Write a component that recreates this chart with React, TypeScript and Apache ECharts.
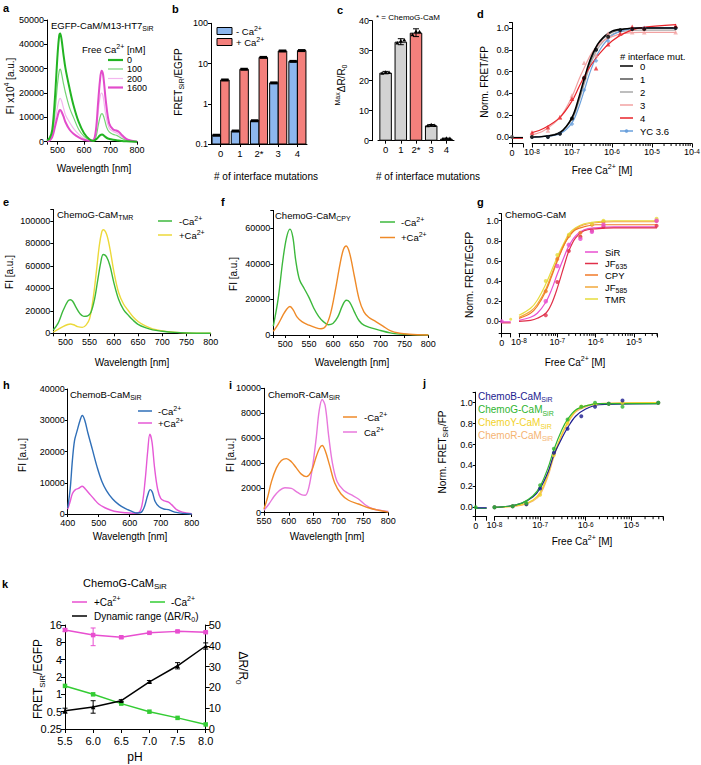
import React, { useEffect, useRef } from "react";
import * as echarts from "echarts";

const FONT = "'Liberation Sans', Arial, Helvetica, sans-serif";

// ---------- a: EGFP-CaM/M13-HT7SiR spectra [nm, FI] ----------
const aCa0 = [[460,500],[470,1500],[480,5000],[490,18000],[500,36000],[506,43500],[510,44500],[515,42000],[522,36000],[530,30000],[545,22000],[560,15000],[580,8000],[600,3500],[620,1000],[635,300],[648,1200],[660,2600],[668,3000],[678,2200],[690,1300],[710,800],[730,500],[760,150],[800,0]];
const aCa100 = [[460,300],[470,1000],[480,3500],[490,12000],[500,24000],[506,29000],[510,29800],[515,28000],[522,24000],[530,20000],[545,14000],[560,10000],[580,5000],[600,2200],[620,700],[635,500],[645,2000],[655,7500],[663,11000],[668,11500],[675,10000],[685,6000],[695,4000],[710,3000],[725,2500],[745,1200],[765,400],[800,0]];
const aCa200 = [[460,200],[470,700],[480,2500],[490,8000],[500,14500],[506,17300],[510,17800],[515,16800],[522,14000],[530,11000],[545,8000],[560,5500],[580,3000],[600,1300],[620,500],[635,600],[645,4000],[653,12000],[660,18000],[666,20000],[672,18500],[682,11000],[695,5500],[710,4200],[725,3500],[745,1800],[765,600],[800,0]];
const aCa1600 = [[460,150],[470,500],[480,2000],[490,6000],[500,10500],[506,12700],[510,13000],[515,12300],[522,10500],[530,8000],[545,5000],[560,3300],[580,1800],[600,800],[620,400],[635,600],[645,5000],[653,16000],[660,25000],[666,29200],[672,27500],[682,17000],[695,7500],[710,5000],[722,4600],[732,4000],[745,2500],[765,800],[800,0]];

// ---------- b ----------
const mutCats = ["0", "1", "2*", "3", "4"];
const bNoCa = [0.165, 0.21, 0.38, 3.3, 11.3];
const bCa = [3.9, 7.2, 14.2, 20.5, 21.0];

// ---------- c ----------
const cMaxDR = [22.7, 33.0, 36.0, 5.1, 0.7];
const cSD = [0.4, 1.0, 1.3, 0.3, 0.15];
const cRep1 = [22.5, 32.6, 35.3, 5.0, 0.6];
const cRep2 = [22.8, 33.2, 36.4, 5.3, 0.8];
const cRep3 = [22.7, 33.6, 36.3, 5.1, 0.7];

// ---------- d ----------
const dFitConc = [1e-8, 2e-8, 5e-8, 1e-7, 1.5e-7, 2e-7, 3e-7, 5e-7, 1e-6, 2e-6, 5e-6, 4e-5];
const dFit0 = [0.00, 0.005, 0.04, 0.18, 0.37, 0.53, 0.73, 0.88, 0.97, 0.99, 1.00, 1.00];
const dFit1 = [0.00, 0.005, 0.04, 0.17, 0.35, 0.51, 0.71, 0.87, 0.96, 0.99, 1.00, 1.00];
const dFit2 = [0.00, 0.008, 0.045, 0.16, 0.33, 0.48, 0.68, 0.84, 0.94, 0.97, 0.98, 0.98];
const dFit3 = [0.02, 0.06, 0.18, 0.37, 0.53, 0.63, 0.76, 0.86, 0.92, 0.95, 0.96, 0.96];
const dFit4 = [0.04, 0.08, 0.18, 0.33, 0.46, 0.55, 0.66, 0.77, 0.88, 0.95, 1.00, 1.03];
const dFitYC = [0.00, 0.004, 0.03, 0.13, 0.28, 0.42, 0.62, 0.80, 0.93, 0.98, 1.00, 1.00];
const dPtConc = [1e-8, 2.5e-8, 5e-8, 1e-7, 2e-7, 4e-7, 8e-7, 1.6e-6, 3.2e-6, 6.4e-6, 3.9e-5];
const dPt0 = [0.00, 0.00, 0.03, 0.17, 0.54, 0.80, 0.92, 0.98, 0.99, 0.99, 1.00];
const dPt3 = [0.02, 0.06, 0.18, 0.38, 0.68, 0.75, 0.95, 0.95, 0.96, 0.96, 0.96];
const dPt4 = [0.04, 0.09, 0.18, 0.35, 0.55, 0.63, 0.85, 0.95, 1.01, 1.00, 1.02];
const dPtYC = [0.00, 0.00, 0.03, 0.12, 0.43, 0.70, 0.88, 0.97, 0.99, 1.00, 1.00];

// ---------- e: ChemoG-CaM TMR ----------
const eNoCa = [[475,3000],[485,9000],[495,20000],[505,28500],[510,29800],[515,28500],[522,23000],[530,17500],[538,15000],[546,15500],[553,19000],[560,30000],[567,48000],[573,63000],[578,70000],[585,68000],[592,60000],[600,45000],[610,30000],[620,21000],[630,16000],[640,11500],[650,8000],[665,5000],[680,3000],[700,1800],[725,800],[750,300],[800,0]];
const eCa = [[475,1000],[485,3500],[495,6000],[505,7800],[510,8300],[517,7600],[525,6000],[535,5300],[543,7500],[550,13000],[557,30000],[564,55000],[570,78000],[575,90000],[578,92000],[585,88000],[592,75000],[600,55000],[610,36000],[620,26000],[630,20000],[640,14500],[650,10500],[665,6500],[680,4000],[700,2200],[725,1000],[750,400],[800,0]];

// ---------- f: ChemoG-CaM CPY ----------
const fNoCa = [[475,5000],[485,20000],[495,42000],[503,55000],[510,59500],[516,55000],[522,42000],[530,31000],[540,26000],[550,21000],[560,15000],[570,10500],[580,7500],[590,5800],[600,6500],[610,10000],[620,16500],[628,19500],[635,18500],[645,13000],[655,8000],[665,5500],[680,4000],[700,2500],[720,1200],[740,500],[760,200],[800,0]];
const fCa = [[475,2000],[485,6000],[495,11000],[503,14500],[510,16000],[517,14000],[525,10000],[535,7500],[550,5500],[565,4000],[575,3500],[585,5000],[595,12000],[605,25000],[615,40000],[622,48000],[628,50000],[635,46000],[645,33000],[655,20000],[665,13000],[675,10000],[690,7500],[705,5000],[720,2500],[740,1000],[760,400],[800,0]];

// ---------- g ----------
const gFitConc = [1e-8, 2e-8, 3e-8, 5e-8, 7e-8, 1e-7, 1.5e-7, 2e-7, 3e-7, 5e-7, 1e-6, 3e-6, 4e-5];
const gFitTMR = [0.06, 0.13, 0.21, 0.37, 0.50, 0.64, 0.78, 0.87, 0.93, 0.97, 0.99, 1.00, 1.00];
const gFitJF585 = [0.04, 0.10, 0.17, 0.32, 0.46, 0.61, 0.76, 0.85, 0.92, 0.96, 0.98, 0.99, 0.99];
const gFitCPY = [0.03, 0.08, 0.15, 0.30, 0.44, 0.60, 0.76, 0.84, 0.91, 0.94, 0.96, 0.96, 0.96];
const gFitSiR = [0.01, 0.04, 0.08, 0.19, 0.31, 0.47, 0.64, 0.75, 0.85, 0.91, 0.93, 0.94, 0.94];
const gFitJF635 = [0.00, 0.01, 0.03, 0.08, 0.17, 0.33, 0.55, 0.70, 0.83, 0.90, 0.92, 0.93, 0.93];
const gPtConc = [5e-8, 1e-7, 2e-7, 4e-7, 8e-7, 1.6e-6, 3.9e-5];
const gPtSiR = [0.20, 0.55, 0.76, 0.82, 0.89, 0.96, 1.00];
const gPtJF635 = [0.06, 0.39, 0.70, 0.84, 0.90, 0.94, 0.95];
const gPtTMR = [0.40, 0.66, 0.86, 0.84, 0.97, 1.00, 1.02];
const gPtCPY = [0.30, 0.62, 0.85, 0.88, 0.96, 0.99, 1.00];

// ---------- h: ChemoB-CaM SiR ----------
const hNoCa = [[400,2000],[408,8000],[415,17000],[422,23500],[430,26500],[440,30000],[447,31500],[455,30000],[465,26000],[480,20500],[495,15000],[510,10500],[525,7500],[545,4800],[565,3000],[585,1800],[605,900],[625,300],[638,600],[648,2500],[658,6000],[666,7800],[673,7000],[682,4000],[695,2300],[710,1600],[725,1400],[735,1000],[750,500],[770,200],[800,0]];
const hCa = [[400,1500],[408,4000],[415,6500],[425,7800],[435,8200],[447,8900],[457,8000],[470,6500],[485,4800],[500,3200],[520,2000],[540,1200],[560,700],[585,400],[610,250],[628,400],[640,3000],[650,11000],[658,20000],[665,25500],[672,23000],[680,15000],[690,8000],[700,5000],[712,4200],[725,3800],[735,3000],[750,1500],[770,600],[800,100]];

// ---------- i: ChemoR-CaM SiR ----------
const iNoCa = [[550,300],[557,1200],[565,2500],[575,3600],[585,4200],[595,4350],[605,4100],[615,3600],[625,3100],[635,2900],[645,3300],[655,4500],[662,5200],[667,5400],[673,5000],[682,3800],[692,2400],[705,1500],[720,1000],[740,700],[760,400],[780,200],[800,50]];
const iCa = [[550,200],[560,700],[570,1300],[580,1750],[592,2000],[605,1950],[615,1700],[625,1450],[633,1400],[640,2000],[648,3800],[655,6000],[661,8200],[667,9100],[673,8600],[680,6200],[688,3900],[697,2500],[710,1800],[725,1450],[740,1100],[755,600],[770,300],[800,100]];

// ---------- j ----------
const jFitConc = [1e-8, 2e-8, 4e-8, 7e-8, 1e-7, 1.5e-7, 2e-7, 3e-7, 4e-7, 6e-7, 1e-6, 2e-6, 4e-5];
const jFitB = [0.00, 0.01, 0.04, 0.10, 0.18, 0.34, 0.50, 0.66, 0.76, 0.87, 0.94, 0.98, 0.99];
const jFitG = [0.00, 0.01, 0.04, 0.11, 0.20, 0.38, 0.55, 0.74, 0.84, 0.93, 0.97, 0.99, 0.99];
const jFitY = [0.00, 0.005, 0.025, 0.07, 0.14, 0.32, 0.50, 0.70, 0.81, 0.92, 0.97, 0.99, 1.00];
const jFitR = [0.00, 0.005, 0.02, 0.06, 0.12, 0.30, 0.48, 0.69, 0.80, 0.91, 0.96, 0.99, 1.00];
const jPtConc = [1e-8, 2.5e-8, 5e-8, 1e-7, 2e-7, 4e-7, 8e-7, 1.6e-6, 3.2e-6, 6.4e-6, 3.9e-5];
const jPtB = [0.00, 0.01, 0.03, 0.18, 0.52, 0.75, 0.87, 0.96, 0.99, 1.02, 1.00];
const jPtG = [0.00, 0.01, 0.04, 0.21, 0.56, 0.84, 0.96, 1.00, 0.99, 0.96, 1.00];
const jPtY = [0.00, 0.01, 0.03, 0.12, 0.50, 0.80, 0.96, 0.98, 0.99, 1.00, 1.00];

// ---------- k ----------
const kPH = [5.5, 6.0, 6.5, 7.0, 7.5, 8.0];
const kCa = [13.1, 10.7, 9.8, 11.7, 12.4, 12.0];
const kCaLo = [12.4, 7.0, 9.4, 11.3, 12.0, 11.6];
const kCaHi = [13.8, 14.2, 10.2, 12.1, 12.8, 12.4];
const kNoCa = [1.4, 1.0, 0.69, 0.5, 0.39, 0.3];
const kDR = [8.8, 10.6, 13.6, 22.7, 30.4, 39.9];
const kDRerr = [1.2, 3.0, 0.5, 0.6, 1.5, 1.5];

const MINOR_MULT = [2, 3, 4, 5, 6, 7, 8, 9];

// ---------- helpers ----------
const zip = (xs: number[], ys: number[]) => xs.map((x, i) => [x, ys[i]]);
const every = (step: number) => (v: number) =>
  Math.abs(v / step - Math.round(v / step)) < 1e-6 ? String(Math.round(v * 1000) / 1000) : "";
const dec1 = (v: number) => (Math.abs(v * 5 - Math.round(v * 5)) < 1e-6 ? (Math.abs(v) < 1e-9 ? "0.0" : v.toFixed(1)) : "");
const logLbl = (v: number) => {
  const e = Math.log10(v);
  const r = Math.round(e);
  return Math.abs(e - r) < 0.01 ? "10{sup|" + r + "}" : "";
};

const AX_LINE = { show: true, onZero: false, lineStyle: { color: "#000", width: 1 } };
const tick = (len = 3) => ({ show: true, length: len, lineStyle: { color: "#000", width: 1 } });
const lbl = (extra: any = {}) => ({ color: "#000", fontSize: 9, fontFamily: FONT, margin: 3, ...extra });
const supRich = { sup: { fontSize: 6.5, fontFamily: FONT, color: "#000", verticalAlign: "top", lineHeight: 6 } };

function vAxis(gi: number, min: number, max: number, extra: any = {}) {
  return {
    type: "value", gridIndex: gi, min, max,
    axisLine: AX_LINE, axisTick: tick(), axisLabel: lbl({ formatter: (v: number) => String(v) }),
    splitLine: { show: false }, ...extra,
  };
}
function logX(gi: number, max: number) {
  return {
    type: "log", logBase: 10, gridIndex: gi, min: 1e-8, max,
    axisLine: AX_LINE, axisTick: tick(4),
    axisLabel: lbl({ formatter: logLbl, rich: supRich, margin: 4 }),
    splitLine: { show: false },
  };
}
function zeroX(gi: number) {
  return vAxis(gi, 0, 1, { interval: 1, axisTick: tick(4), axisLabel: lbl({ formatter: (v: number) => (v === 0 ? "0" : ""), margin: 5 }) });
}
const hiddenY = (gi: number, min: number, max: number) => ({ type: "value", gridIndex: gi, min, max, show: false });

const L = (xi: number, yi: number, data: any[], color: string, width = 1.2, z = 3, smooth: any = 0.35) => ({
  type: "line", xAxisIndex: xi, yAxisIndex: yi, data, smooth, symbol: "none", showSymbol: false,
  lineStyle: { color, width }, itemStyle: { color }, silent: true, z, clip: false,
});
const P = (xi: number, yi: number, data: any[], color: string, symbol = "circle", size = 4, z = 5) => ({
  type: "scatter", xAxisIndex: xi, yAxisIndex: yi, data, symbol, symbolSize: size,
  itemStyle: { color }, silent: true, z, clip: false,
});
const errBars = (xi: number, yi: number, data: number[][], color: string, cap = 2.5) => ({
  type: "custom", xAxisIndex: xi, yAxisIndex: yi, data, silent: true, clip: false, z: 4,
  renderItem: (_p: any, api: any) => {
    const x = api.value(0);
    const a = api.coord([x, api.value(1)]);
    const b = api.coord([x, api.value(2)]);
    const st = { stroke: color, lineWidth: 1 };
    return {
      type: "group",
      children: [
        { type: "line", shape: { x1: a[0], y1: a[1], x2: b[0], y2: b[1] }, style: st },
        { type: "line", shape: { x1: a[0] - cap, y1: a[1], x2: a[0] + cap, y2: a[1] }, style: st },
        { type: "line", shape: { x1: b[0] - cap, y1: b[1], x2: b[0] + cap, y2: b[1] }, style: st },
      ],
    };
  },
});
const minorTicks = (xi: number, yi: number, yMin: number, maxVal: number) => {
  const data: number[][] = [];
  for (let e = -8; e <= -5; e++) {
    for (const m of MINOR_MULT) {
      const v = m * Math.pow(10, e);
      if (v <= maxVal * 1.0001) data.push([v, yMin]);
    }
  }
  return {
    type: "custom", xAxisIndex: xi, yAxisIndex: yi, data, silent: true, clip: false, z: 1,
    renderItem: (_p: any, api: any) => {
      const p = api.coord([api.value(0), api.value(1)]);
      return { type: "line", shape: { x1: p[0], y1: p[1], x2: p[0], y2: p[1] + 2.5 }, style: { stroke: "#000", lineWidth: 1 } };
    },
  };
};
const bBars = (vals: number[], off: number, color: string) => ({
  type: "custom", xAxisIndex: 1, yAxisIndex: 1, clip: false, silent: true, z: 3,
  data: vals.map((v, i) => [i, v]),
  renderItem: (_p: any, api: any) => {
    const top = api.coord([api.value(0), api.value(1)]);
    const base = api.coord([api.value(0), 0.1]);
    const w = 8.5;
    const x = top[0] + off - w / 2;
    return {
      type: "group",
      children: [
        { type: "rect", shape: { x, y: top[1], width: w, height: base[1] - top[1] }, style: { fill: color, stroke: "#000", lineWidth: 1 } },
        { type: "rect", shape: { x: x + 0.5, y: top[1] - 1.5, width: w - 1, height: 3 }, style: { fill: "#000" } },
      ],
    };
  },
});

// graphic helpers
const rich = (size: number, color: string) => ({
  sub: { fontSize: Math.round(size * 0.7), fill: color, fontFamily: FONT, verticalAlign: "bottom", lineHeight: Math.round(size * 0.7) },
  sup: { fontSize: Math.round(size * 0.7), fill: color, fontFamily: FONT, verticalAlign: "top", lineHeight: Math.round(size * 0.7) },
});
function txt(x: number, y: number, text: string, o: any = {}) {
  const size = o.size ?? 10;
  const color = o.color ?? "#000";
  return {
    type: "text", x, y, rotation: o.rot ?? 0, silent: true, z: 100,
    style: {
      text, fill: color, fontSize: size, fontFamily: FONT, fontWeight: o.bold ? "bold" : "normal",
      align: o.align ?? "left", verticalAlign: "middle", lineHeight: Math.round(size * 1.4), rich: rich(size, color),
    },
  };
}
const gl = (x1: number, y1: number, x2: number, y2: number, color: string, w = 1.5) => ({
  type: "line", shape: { x1, y1, x2, y2 }, style: { stroke: color, lineWidth: w }, silent: true, z: 100,
});
const gr = (x: number, y: number, w: number, h: number, fill: string) => ({
  type: "rect", shape: { x, y, width: w, height: h }, style: { fill, stroke: "#000", lineWidth: 1 }, silent: true, z: 100,
});
const gc = (x: number, y: number, r: number, fill: string) => ({
  type: "circle", shape: { cx: x, cy: y, r }, style: { fill }, silent: true, z: 101,
});

const ROT = Math.PI / 2;

const C = {
  aG: "#22b422", aGl: "#74d474", aPl: "#f3b6ee", aM: "#e24ccb",
  blue: "#8db7ee", red: "#f4807c", gray: "#d2d2d2",
  d0: "#000000", d1: "#555555", d2: "#a8a8a8", d3: "#f2a2a2", d4: "#e8232a", dYC: "#6aa0dc",
  green: "#3cb83c", yellow: "#ecd93a", orange: "#ef8a28",
  gSiR: "#e84fd0", gJF635: "#e0304a", gCPY: "#f07a28", gJF585: "#f2a93b", gTMR: "#e6dc3c",
  hBlue: "#2f6fb8", mag: "#e659d6", iMag: "#e878dc",
  jB: "#1c1c8f", jG: "#2fb52f", jY: "#f2d22a", jR: "#f5b473",
  kMag: "#e84fd0", kGreen: "#33cc33",
};

function buildOption() {
  const GR = [
    [47, 20, 90, 121.7],
    [211, 23.3, 96, 120.7],
    [378, 20.7, 76, 120],
    [512, 22.5, 11, 121],
    [532, 22.5, 160, 121],
    [53.3, 209.5, 157.4, 123.8],
    [273.3, 210.4, 155, 124.6],
    [501.7, 213.7, 9, 119.7],
    [519, 213.7, 138, 119.7],
    [67.7, 389, 124, 125],
    [264, 388.3, 124.3, 124.4],
    [475.7, 392.2, 11, 124.5],
    [494.5, 392.2, 168.7, 124.5],
    [65, 625, 140.7, 104],
  ];
  const grid = GR.map(([left, top, width, height]) => ({ left, top, width, height, containLabel: false, outerBoundsMode: "none" }));

  const catAxis = (gi: number) => ({
    type: "category", gridIndex: gi, data: mutCats,
    axisLine: AX_LINE, axisTick: { ...tick(3), alignWithLabel: true },
    axisLabel: lbl({ fontSize: 9.5, margin: 4 }), splitLine: { show: false },
  });

  const xAxis = [
    vAxis(0, 460, 800, { splitNumber: 3, axisLabel: lbl({ formatter: every(100), margin: 4 }) }),
    catAxis(1),
    catAxis(2),
    zeroX(3),
    logX(4, 1e-4),
    vAxis(5, 475, 800, { splitNumber: 6, axisLabel: lbl({ formatter: every(50), margin: 4 }) }),
    vAxis(6, 475, 800, { splitNumber: 6, axisLabel: lbl({ formatter: every(50), margin: 4 }) }),
    zeroX(7),
    logX(8, 4e-5),
    vAxis(9, 400, 800, { interval: 100, axisLabel: lbl({ formatter: (v: number) => String(v), margin: 4 }) }),
    vAxis(10, 550, 800, { interval: 50, axisLabel: lbl({ formatter: (v: number) => String(v), margin: 4 }) }),
    zeroX(11),
    logX(12, 5e-5),
    vAxis(13, 5.5, 8, { interval: 0.5, axisTick: tick(4), axisLabel: lbl({ fontSize: 11, margin: 6, formatter: (v: number) => v.toFixed(1) }) }),
  ];

  const yAxis = [
    vAxis(0, 0, 50000, { interval: 10000 }),
    {
      type: "log", logBase: 10, gridIndex: 1, min: 0.1, max: 100,
      axisLine: AX_LINE, axisTick: tick(), splitLine: { show: false },
      axisLabel: lbl({ formatter: (v: number) => String(+v.toPrecision(2)) }),
    },
    vAxis(2, 0, 40, { interval: 10, offset: 6 }),
    vAxis(3, -0.06, 1.05, { splitNumber: 5, axisLabel: lbl({ formatter: dec1 }) }),
    hiddenY(4, -0.06, 1.05),
    vAxis(5, 0, 110000, { interval: 20000, axisLabel: lbl({ formatter: every(20000) }) }),
    vAxis(6, 0, 70000, { interval: 20000, axisLabel: lbl({ formatter: every(20000) }) }),
    vAxis(7, -0.12, 1.07, { splitNumber: 6, axisLabel: lbl({ formatter: dec1 }) }),
    hiddenY(8, -0.12, 1.07),
    vAxis(9, 0, 40000, { interval: 10000 }),
    vAxis(10, 0, 10000, { interval: 2000 }),
    vAxis(11, -0.09, 1.1, { splitNumber: 6, axisLabel: lbl({ formatter: dec1 }) }),
    hiddenY(12, -0.09, 1.1),
    {
      type: "log", logBase: 2, gridIndex: 13, min: 0.25, max: 16,
      axisLine: AX_LINE, axisTick: tick(4), splitLine: { show: false },
      axisLabel: lbl({ fontSize: 11, formatter: (v: number) => String(+v.toPrecision(3)) }),
    },
    vAxis(13, 0, 50, { interval: 10, position: "right", axisTick: tick(4), axisLabel: lbl({ fontSize: 11 }) }),
  ];

  const series: any[] = [
    // a
    L(0, 0, aCa200, C.aPl, 1.2),
    L(0, 0, aCa100, C.aGl, 1.2),
    L(0, 0, aCa1600, C.aM, 2),
    L(0, 0, aCa0, C.aG, 2),
    // b
    bBars(bNoCa, -4.3, C.blue),
    bBars(bCa, 4.3, C.red),
    // c
    {
      type: "bar", xAxisIndex: 2, yAxisIndex: 2, barWidth: 12.5, silent: true, z: 2,
      data: cMaxDR.map((v, i) => ({ value: v, itemStyle: { color: i === 2 ? C.red : C.gray, borderColor: "#000", borderWidth: 1 } })),
    },
    errBars(2, 2, cMaxDR.map((v, i) => [i, v - cSD[i], v + cSD[i]]), "#000", 3),
    {
      type: "custom", xAxisIndex: 2, yAxisIndex: 2, silent: true, clip: false, z: 5,
      data: cMaxDR.map((_v, i) => [i, cRep1[i], cRep2[i], cRep3[i]]),
      renderItem: (_p: any, api: any) => {
        const i = api.value(0);
        const offs = [-3.5, 0, 3.5];
        return {
          type: "group",
          children: offs.map((o, k) => {
            const p = api.coord([i, api.value(k + 1)]);
            const x = p[0] + o;
            const y = p[1];
            return { type: "polygon", shape: { points: [[x, y - 2], [x - 2, y + 1.5], [x + 2, y + 1.5]] }, style: { fill: "#000" } };
          }),
        };
      },
    },
    // d
    minorTicks(4, 4, -0.06, 1e-4),
    L(3, 3, [[0, -0.012], [1, -0.012]], C.d4, 1.2, 3, false),
    L(3, 3, [[0, -0.005], [1, -0.005]], C.d0, 1.2, 3, false),
    P(3, 3, [[0, 0]], C.d1, "circle", 4),
    L(4, 4, zip(dFitConc, dFit2), C.d2),
    L(4, 4, zip(dFitConc, dFit1), C.d1),
    L(4, 4, zip(dFitConc, dFitYC), C.dYC),
    L(4, 4, zip(dFitConc, dFit3), C.d3),
    L(4, 4, zip(dFitConc, dFit4), C.d4),
    L(4, 4, zip(dFitConc, dFit0), C.d0, 1.4),
    P(4, 4, zip(dPtConc, dPtYC), C.dYC, "diamond", 4.5),
    P(4, 4, zip(dPtConc, dPt3), C.d3, "triangle", 4.5),
    P(4, 4, zip(dPtConc, dPt4), C.d4, "triangle", 4.5),
    P(4, 4, zip(dPtConc, dPt0), C.d0, "circle", 4),
    // e
    L(5, 5, eCa, C.yellow, 1.4),
    L(5, 5, eNoCa, C.green, 1.4),
    // f
    L(6, 6, fNoCa, C.green, 1.4),
    L(6, 6, fCa, C.orange, 1.4),
    // g
    minorTicks(8, 8, -0.12, 4e-5),
    L(7, 7, [[0, -0.015], [1, -0.015]], C.gJF635, 1.2, 3, false),
    L(7, 7, [[0, -0.005], [1, -0.005]], C.gSiR, 1.2, 3, false),
    P(7, 7, [[0, 0]], C.gSiR, "circle", 4),
    P(7, 7, [[1, 0.02]], C.gTMR, "circle", 3),
    L(8, 8, zip(gFitConc, gFitTMR), C.gTMR),
    L(8, 8, zip(gFitConc, gFitJF585), C.gJF585),
    L(8, 8, zip(gFitConc, gFitCPY), C.gCPY),
    L(8, 8, zip(gFitConc, gFitSiR), C.gSiR),
    L(8, 8, zip(gFitConc, gFitJF635), C.gJF635),
    P(8, 8, zip(gPtConc, gPtCPY), C.gCPY, "circle", 4),
    P(8, 8, zip(gPtConc, gPtTMR), C.gTMR, "circle", 4),
    P(8, 8, zip(gPtConc, gPtJF635), C.gJF635, "circle", 4),
    P(8, 8, zip(gPtConc, gPtSiR), C.gSiR, "circle", 4.5),
    // h
    L(9, 9, hCa, C.mag, 1.4),
    L(9, 9, hNoCa, C.hBlue, 1.4),
    // i
    L(10, 10, iCa, C.iMag, 1.4),
    L(10, 10, iNoCa, C.orange, 1.4),
    // j
    minorTicks(12, 12, -0.09, 5e-5),
    L(11, 11, [[0, -0.01], [1, -0.01]], C.jG, 1.2, 3, false),
    L(11, 11, [[0, -0.005], [1, -0.005]], C.jB, 1.2, 3, false),
    P(11, 11, [[0, 0]], C.jG, "circle", 4),
    L(12, 12, zip(jFitConc, jFitR), C.jR),
    L(12, 12, zip(jFitConc, jFitY), C.jY),
    L(12, 12, zip(jFitConc, jFitB), C.jB),
    L(12, 12, zip(jFitConc, jFitG), C.jG),
    P(12, 12, zip(jPtConc, jPtY), C.jY, "circle", 4),
    P(12, 12, zip(jPtConc, jPtB), C.jB, "circle", 4),
    P(12, 12, zip(jPtConc, jPtG), C.jG, "circle", 4),
    // k
    errBars(13, 13, kPH.map((x, i) => [x, kCaLo[i], kCaHi[i]]), C.kMag, 2.5),
    errBars(13, 14, kPH.map((x, i) => [x, kDR[i] - kDRerr[i], kDR[i] + kDRerr[i]]), "#000", 2.5),
    {
      type: "line", xAxisIndex: 13, yAxisIndex: 13, data: zip(kPH, kCa), symbol: "rect", symbolSize: 4.5, showSymbol: true,
      lineStyle: { color: C.kMag, width: 1.5 }, itemStyle: { color: C.kMag }, silent: true, z: 3, clip: false,
    },
    {
      type: "line", xAxisIndex: 13, yAxisIndex: 13, data: zip(kPH, kNoCa), symbol: "rect", symbolSize: 4.5, showSymbol: true,
      lineStyle: { color: C.kGreen, width: 1.5 }, itemStyle: { color: C.kGreen }, silent: true, z: 3, clip: false,
    },
    {
      type: "line", xAxisIndex: 13, yAxisIndex: 14, data: zip(kPH, kDR), symbol: "triangle", symbolSize: 4.5, showSymbol: true,
      lineStyle: { color: "#000", width: 1.5 }, itemStyle: { color: "#000" }, silent: true, z: 4, clip: false,
    },
  ];

  const dLeg = [["0", C.d0], ["1", C.d1], ["2", C.d2], ["3", C.d3], ["4", C.d4], ["YC 3.6", C.dYC]];
  const dLegY = [66, 79, 92, 105, 118, 131];
  const gLeg = [["SiR", C.gSiR], ["JF{sub|635}", C.gJF635], ["CPY", C.gCPY], ["JF{sub|585}", C.gJF585], ["TMR", C.gTMR]];
  const gLegY = [252, 263.5, 275, 287, 299];
  const aLeg = [["0", C.aG, 2.2], ["100", C.aGl, 1.2], ["200", C.aPl, 1.2], ["1600", C.aM, 2.2]];
  const aLegY = [60, 69, 78.5, 87.5];

  const graphic: any[] = [
    // panel letters
    ...[["a", 3, 8], ["b", 172, 9], ["c", 337, 10], ["d", 477, 14], ["e", 3, 202], ["f", 221, 202], ["g", 477, 202], ["h", 3, 385], ["i", 229, 385], ["j", 423, 383], ["k", 2, 584]].map(
      ([t, x, y]: any) => txt(x, y, t, { bold: true, size: 11 })
    ),
    // a
    txt(51, 25, "EGFP-CaM/M13-HT7{sub|SiR}", { size: 9.5 }),
    txt(82, 49, "Free Ca{sup|2+} [nM]", { size: 9.5 }),
    ...aLeg.flatMap(([t, c, w]: any, i) => [gl(108, aLegY[i], 123, aLegY[i], c, w), txt(127, aLegY[i], t, { size: 9 })]),
    txt(10, 86, "FI x10{sup|4} [a.u.]", { rot: ROT, align: "center", size: 10 }),
    txt(94, 168, "Wavelength [nm]", { align: "center", size: 10 }),
    // b
    txt(178, 82, "FRET{sub|SiR}/EGFP", { rot: ROT, align: "center", size: 10 }),
    gr(217, 27.5, 15, 7, C.blue),
    txt(236, 31, "- Ca{sup|2+}", { size: 9.5 }),
    gr(217, 38.5, 15, 7, C.red),
    txt(236, 42, "+ Ca{sup|2+}", { size: 9.5 }),
    txt(266, 176, "# of interface mutations", { align: "center", size: 10 }),
    // c
    txt(376, 17, "* = ChemoG-CaM", { size: 8 }),
    txt(341, 85, "{sup|Max}ΔR/R{sub|0}", { rot: ROT, align: "center", size: 10 }),
    txt(428, 176, "# of interface mutations", { align: "center", size: 10 }),
    // d
    txt(484, 82, "Norm. FRET/FP", { rot: ROT, align: "center", size: 10 }),
    txt(620, 56, "# interface mut.", { size: 9.5 }),
    ...dLeg.flatMap(([t, c]: any, i) => {
      const els: any[] = [gl(620, dLegY[i], 633, dLegY[i], c, 1.5), txt(640, dLegY[i], t, { size: 9.5 })];
      if (t === "YC 3.6") els.push(gc(626.5, dLegY[i], 1.8, c));
      return els;
    }),
    txt(602, 170, "Free Ca{sup|2+} [M]", { align: "center", size: 10 }),
    // e
    txt(57, 214, "ChemoG-CaM{sub|TMR}", { size: 9.5 }),
    gl(158, 221, 172, 221, C.green, 1.5), txt(179, 221, "-Ca{sup|2+}", { size: 9.5 }),
    gl(158, 235, 172, 235, C.yellow, 1.5), txt(179, 235, "+Ca{sup|2+}", { size: 9.5 }),
    txt(9, 272, "FI [a.u.]", { rot: ROT, align: "center", size: 10 }),
    txt(132, 362, "Wavelength [nm]", { align: "center", size: 10 }),
    // f
    txt(275, 215, "ChemoG-CaM{sub|CPY}", { size: 9.5 }),
    gl(380, 222, 395, 222, C.green, 1.5), txt(401, 222, "-Ca{sup|2+}", { size: 9.5 }),
    gl(380, 237.5, 395, 237.5, C.orange, 1.5), txt(401, 237.5, "+Ca{sup|2+}", { size: 9.5 }),
    txt(233, 274, "FI [a.u.]", { rot: ROT, align: "center", size: 10 }),
    txt(352, 362, "Wavelength [nm]", { align: "center", size: 10 }),
    // g
    txt(505, 214, "ChemoG-CaM", { size: 9.5 }),
    ...gLeg.flatMap(([t, c]: any, i) => [gl(585, gLegY[i], 598, gLegY[i], c, 1.5), txt(605, gLegY[i], t, { size: 9.5 })]),
    txt(469, 275, "Norm. FRET/EGFP", { rot: ROT, align: "center", size: 10 }),
    txt(575, 362, "Free Ca{sup|2+} [M]", { align: "center", size: 10 }),
    // h
    txt(70, 394, "ChemoB-CaM{sub|SiR}", { size: 9.5 }),
    gl(138, 411, 152, 411, C.hBlue, 1.5), txt(158, 411, "-Ca{sup|2+}", { size: 9.5 }),
    gl(138, 423, 152, 423, C.mag, 1.5), txt(158, 423, "+Ca{sup|2+}", { size: 9.5 }),
    txt(22, 455, "FI [a.u.]", { rot: ROT, align: "center", size: 10 }),
    txt(130, 536, "Wavelength [nm]", { align: "center", size: 10 }),
    // i
    txt(268, 394, "ChemoR-CaM{sub|SiR}", { size: 9.5 }),
    gl(343, 417, 357, 417, C.orange, 1.5), txt(364, 417, "-Ca{sup|2+}", { size: 9.5 }),
    gl(343, 432, 357, 432, C.iMag, 1.5), txt(364, 432, "Ca{sup|2+}", { size: 9.5 }),
    txt(230, 455, "FI [a.u.]", { rot: ROT, align: "center", size: 10 }),
    txt(327, 536, "Wavelength [nm]", { align: "center", size: 10 }),
    // j
    txt(478, 396, "ChemoB-CaM{sub|SiR}", { size: 10, color: C.jB }),
    txt(478, 409.5, "ChemoG-CaM{sub|SiR}", { size: 10, color: C.jG }),
    txt(478, 422.5, "ChemoY-CaM{sub|SiR}", { size: 10, color: C.jY }),
    txt(478, 435, "ChemoR-CaM{sub|SiR}", { size: 10, color: C.jR }),
    txt(442, 452, "Norm. FRET{sub|SiR}/FP", { rot: ROT, align: "center", size: 10 }),
    txt(582, 541, "Free Ca{sup|2+} [M]", { align: "center", size: 10 }),
    // k
    txt(125, 583, "ChemoG-CaM{sub|SiR}", { align: "center", size: 11 }),
    gl(72, 602, 87, 602, C.kMag, 1.5), txt(94, 602, "+Ca{sup|2+}", { size: 10 }),
    gl(150, 602, 165, 602, C.kGreen, 1.5), txt(171, 602, "-Ca{sup|2+}", { size: 10 }),
    gl(72, 616, 87, 616, "#000", 1.5), txt(94, 616, "Dynamic range (ΔR/R{sub|0})", { size: 10 }),
    txt(38, 679, "FRET{sub|SiR}/EGFP", { rot: ROT, align: "center", size: 12 }),
    txt(243, 668, "ΔR/R{sub|0}", { rot: -ROT, align: "center", size: 12 }),
    txt(135, 757, "pH", { align: "center", size: 12 }),
  ];

  return {
    animation: false,
    backgroundColor: "#ffffff",
    textStyle: { fontFamily: FONT },
    grid,
    xAxis,
    yAxis,
    series,
    graphic: { elements: graphic },
  };
}

export default function App() {
  const ref = useRef<HTMLDivElement>(null);
  useEffect(() => {
    if (!ref.current) return;
    const chart = echarts.init(ref.current, null, { renderer: "svg" });
    chart.setOption(buildOption() as any);
    return () => chart.dispose();
  }, []);
  return (
    <div
      ref={ref}
      style={{ position: "absolute", left: 0, top: 0, width: 701, height: 765, background: "#fff" }}
    />
  );
}
